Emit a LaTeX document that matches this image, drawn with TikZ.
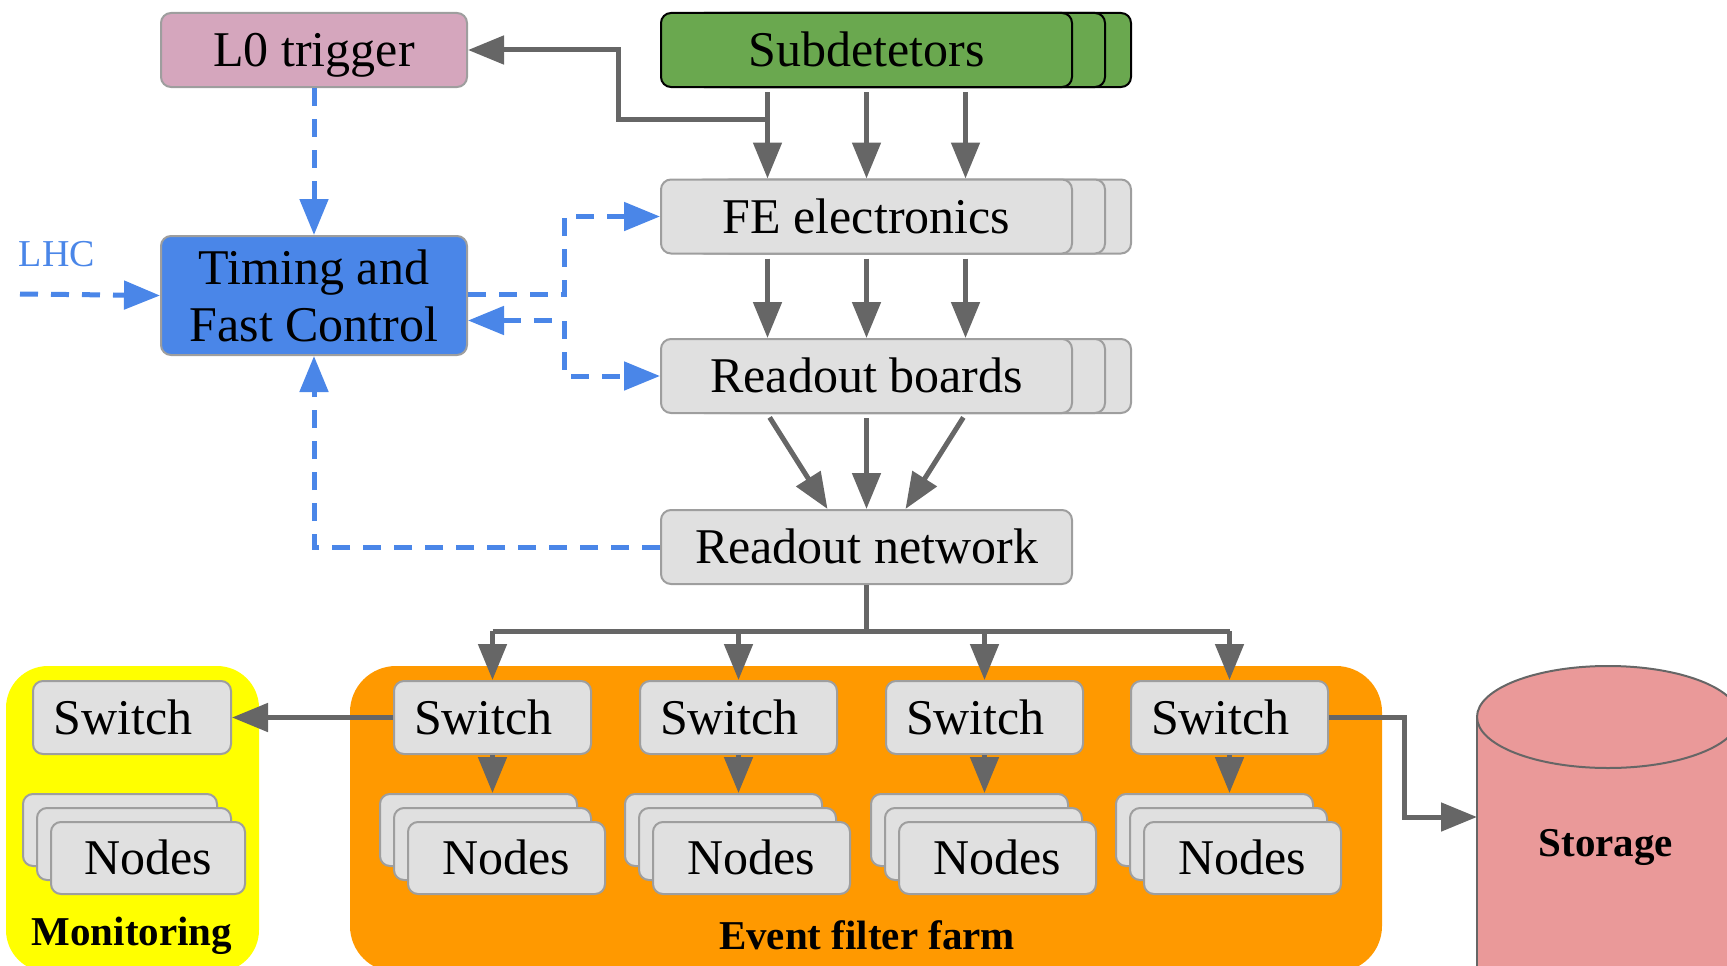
\documentclass[tikz,border=0pt]{standalone}
\usepackage{fontspec}
\setmainfont{Liberation Serif}
\usetikzlibrary{arrows.meta,calc}
\definecolor{boxgray}{HTML}{E0E0E0}
\definecolor{edgegray}{HTML}{9E9E9E}
\definecolor{linegray}{HTML}{666666}
\definecolor{tfcblue}{HTML}{4A86E8}
\definecolor{detgreen}{HTML}{6AA84F}
\definecolor{trigpink}{HTML}{D5A6BD}
\definecolor{farmorange}{HTML}{FF9900}
\definecolor{monyellow}{HTML}{FFFF00}
\definecolor{storered}{HTML}{EA9999}
\newcommand{\swlabel}{\hspace*{-18pt}Switch}
\tikzset{
  txt/.style={font=\fontsize{50}{57}\selectfont},
  grp/.style={font=\bfseries\fontsize{41}{45}\selectfont},
  basebox/.style={txt, rounded corners=10pt, line width=2pt, inner sep=0pt, align=center},
  oneline/.style={text height=40pt, text depth=7pt},
  gbox/.style={basebox, oneline, fill=boxgray, draw=edgegray},
  greenbox/.style={basebox, oneline, fill=detgreen, draw=black},
  pinkbox/.style={basebox, oneline, fill=trigpink, draw=edgegray},
  bluebox/.style={basebox, fill=tfcblue, draw=edgegray},
  gline/.style={draw=linegray, line width=5pt},
  garrow/.style={gline, -{Triangle[length=36pt, width=28pt]}},
  bline/.style={draw=tfcblue, line width=5pt, dash pattern=on 18pt off 13pt},
  barrow/.style={bline, -{Triangle[length=36pt, width=28pt]}},
  bboth/.style={bline, {Triangle[length=36pt, width=28pt]}-{Triangle[length=36pt, width=28pt]}},
}
\begin{document}
\begin{tikzpicture}[x=1pt, y=-1pt]
\useasboundingbox (0,0) rectangle (1727,966);
\clip (0,0) rectangle (1727,966);

% group backgrounds
\fill[monyellow, rounded corners=42pt] (6,666) rectangle (259,972);
\fill[farmorange, rounded corners=46pt] (350,666) rectangle (1382,972);
\node[grp] (monlabel) at (132,936) {Monitoring};
\node[grp] (farmlabel) at (867,935) {Event filter farm};

% storage cylinder
\filldraw[fill=storered, draw=linegray, line width=2pt] (1477,717) -- (1477,1010) -- (1739,1010) -- (1739,717);
\filldraw[fill=storered, draw=linegray, line width=2pt] (1608,717) ellipse [x radius=131pt, y radius=51pt];
\node[grp] (storage) at (1606,847) {Storage};
\coordinate (stin) at (1477,817);

% top row
\node[pinkbox, minimum width=306pt, minimum height=74pt] (l0) at (314,50) {L0 trigger};
\node[greenbox, minimum width=411pt, minimum height=74pt] at (925.5,50) {};
\node[greenbox, minimum width=411pt, minimum height=74pt] at (899.5,50) {};
\node[greenbox, minimum width=411pt, minimum height=74pt] (sub) at (866.5,50) {Subdetetors};

% front end and readout chain
\foreach \nm/\y/\lab in {fe/216.5/FE electronics, rb/376/Readout boards}{
  \node[gbox, minimum width=411pt, minimum height=74pt] at (925.5,\y) {};
  \node[gbox, minimum width=411pt, minimum height=74pt] at (899.5,\y) {};
  \node[gbox, minimum width=411pt, minimum height=74pt] (\nm) at (866.5,\y) {\lab};
}
\node[gbox, minimum width=411pt, minimum height=74pt] (rn) at (866.5,547) {Readout network};

% timing and fast control
\node[bluebox, minimum width=306pt, minimum height=119pt] (tfc) at (314,295.5) {Timing and\\Fast Control};
\node[font=\fontsize{38}{40}\selectfont, text=tfcblue] (lhc) at (57,254) {LHC};
\coordinate (lhcin) at (20,294);

% switches and node stacks of the filter farm
\foreach \i/\sx/\nx in {1/492.5/506.5, 2/738.5/751.5, 3/984.5/997.5, 4/1229.5/1242.5}{
  \node[gbox, minimum width=197pt, minimum height=73pt] (sw\i) at (\sx,717.5) {\swlabel};
  \node[gbox, minimum width=197pt, minimum height=72pt] (nb\i) at (\nx-28,830) {};
  \node[gbox, minimum width=197pt, minimum height=72pt] (nm\i) at (\nx-14,844) {};
  \node[gbox, minimum width=197pt, minimum height=72pt] (nf\i) at (\nx,858) {Nodes};
  \draw[garrow] (sw\i.south) -- (sw\i.south |- nb\i.north);
}

% monitoring farm
\node[gbox, minimum width=198pt, minimum height=73pt] (msw) at (132,717.5) {\swlabel};
\node[gbox, minimum width=194pt, minimum height=72pt] (mnb) at (120,830) {};
\node[gbox, minimum width=194pt, minimum height=72pt] (mnm) at (134,844) {};
\node[gbox, minimum width=194pt, minimum height=72pt] (mnf) at (148,858) {Nodes};

% data flow
\foreach \dx in {-99,0,99}{
  \draw[garrow, shorten <=4pt] ([xshift=\dx pt]sub.south) -- ([xshift=\dx pt]fe.north);
  \draw[garrow, shorten <=4pt] ([xshift=\dx pt]fe.south) -- ([xshift=\dx pt]rb.north);
}
\coordinate (tap) at (768,119);
\draw[garrow] (tap) -- (618,119) -- (618,50) -- (l0.east);
\draw[garrow, shorten <=4pt] ([xshift=-99pt]rb.south) -- ([xshift=-39pt]rn.north);
\draw[garrow, shorten <=4pt] (rb.south) -- (rn.north);
\draw[garrow, shorten <=4pt] ([xshift=99pt]rb.south) -- ([xshift=39pt]rn.north);

\coordinate (bus) at (866.5,631);
\draw[gline] (rn.south) -- (bus);
\draw[gline] (sw1.north |- bus) -- (sw4.north |- bus);
\foreach \i in {1,2,3,4}{
  \draw[garrow] (sw\i.north |- bus) -- (sw\i.north);
}
\draw[garrow] (sw1.west) -- (msw.east);
\draw[garrow] (sw4.east) -- (1404,717.5) |- (stin);

% timing and control signals
\draw[barrow] (l0.south) -- (tfc.north);
\draw[barrow] (lhcin) -- (tfc.west);
\draw[barrow] ([yshift=1pt]tfc.east) -- (564,294.5) |- (fe.west);
\draw[bboth] ([yshift=-25pt]tfc.east) -- (564,320.5) |- (rb.west);
\draw[barrow] (rn.west) -| (tfc.south);
\end{tikzpicture}
\end{document}
